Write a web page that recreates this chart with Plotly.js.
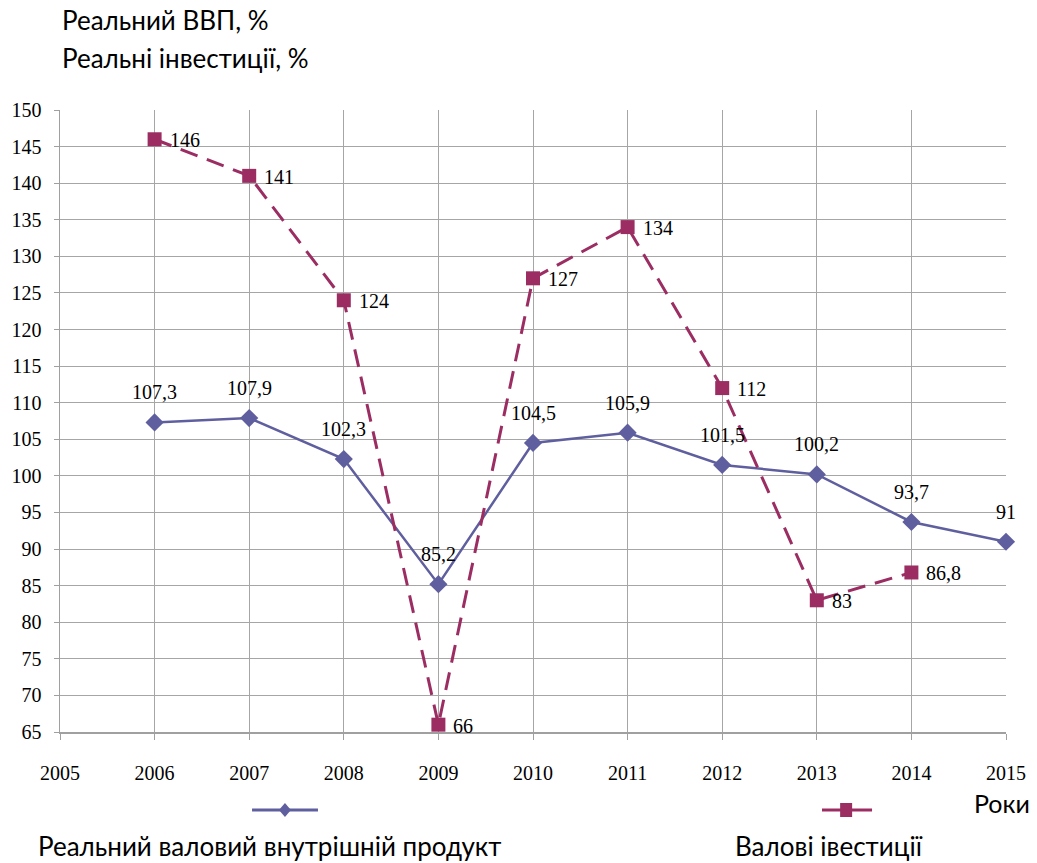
<!DOCTYPE html>
<html><head><meta charset="utf-8">
<script src="https://cdn.plot.ly/plotly-3.0.1.min.js"></script>
<style>html,body{margin:0;padding:0;background:#fff}#chart{width:1037px;height:863px}</style>
</head><body><div id="chart"></div>
<script>
const years = [2006, 2007, 2008, 2009, 2010, 2011, 2012, 2013, 2014, 2015];
const gdp = [107.3, 107.9, 102.3, 85.2, 104.5, 105.9, 101.5, 100.2, 93.7, 91];
const invYears = [2006, 2007, 2008, 2009, 2010, 2011, 2012, 2013, 2014];
const inv = [146, 141, 124, 66, 127, 134, 112, 83, 86.8];
const xTicks = [2005, 2006, 2007, 2008, 2009, 2010, 2011, 2012, 2013, 2014, 2015];
const titleLines = ['Реальний ВВП, %', 'Реальні інвестиції, %'];
const seriesNames = ['Реальний валовий внутрішній продукт', 'Валові івестиції'];
const xTitle = 'Роки';

const gdpColor = '#5f5f9f';
const invColor = '#9b2d62';
const serif = 'Liberation Serif, Times New Roman, serif';
const sans = 'Lato, Open Sans, sans-serif';
const fmt = v => String(v).replace('.', ',');

const traces = [
  {x: years, y: gdp, type: 'scatter', mode: 'lines+markers', name: seriesNames[0],
   line: {color: gdpColor, width: 2.5}, marker: {symbol: 'diamond', size: 14, color: gdpColor}, cliponaxis: false},
  {x: invYears, y: inv, type: 'scatter', mode: 'lines+markers', name: seriesNames[1],
   line: {color: invColor, width: 3, dash: '18px,10px'}, marker: {symbol: 'square', size: 14, color: invColor}, cliponaxis: false}
];

const annotations = [];
years.forEach((x, i) => annotations.push({x: x, y: gdp[i], xref: 'x', yref: 'y', text: fmt(gdp[i]), showarrow: false,
  yshift: 30, font: {family: serif, size: 20, color: '#000'}}));
invYears.forEach((x, i) => annotations.push({x: x, y: inv[i], xref: 'x', yref: 'y', text: fmt(inv[i]), showarrow: false,
  xanchor: 'left', xshift: 13, yshift: -1, font: {family: serif, size: 20, color: '#000'}}));
annotations.push({xref: 'paper', yref: 'paper', x: 0.0, y: 1.1447, xanchor: 'left', yanchor: 'middle', text: titleLines[0], showarrow: false, font: {family: sans, size: 26, color: '#000'}});
annotations.push({xref: 'paper', yref: 'paper', x: 0.0, y: 1.0836, xanchor: 'left', yanchor: 'middle', text: titleLines[1], showarrow: false, font: {family: sans, size: 26, color: '#000'}});
annotations.push({xref: 'paper', yref: 'paper', x: 1.0275, y: -0.114, xanchor: 'right', yanchor: 'middle', text: xTitle, showarrow: false, font: {family: sans, size: 25, color: '#000'}});
annotations.push({xref: 'paper', yref: 'paper', x: -0.0253, y: -0.1825, xanchor: 'left', yanchor: 'middle', text: seriesNames[0], showarrow: false, font: {family: sans, size: 26, color: '#000'}});
annotations.push({xref: 'paper', yref: 'paper', x: 0.7115, y: -0.1825, xanchor: 'left', yanchor: 'middle', text: seriesNames[1], showarrow: false, font: {family: sans, size: 26, color: '#000'}});

const shapes = [
  {type: 'line', xref: 'paper', yref: 'paper', x0: 0.203, x1: 0.2727, y0: -0.1254, y1: -0.1254, line: {color: gdpColor, width: 3}},
  {type: 'path', xref: 'paper', yref: 'paper', xsizemode: 'pixel', ysizemode: 'pixel', xanchor: 0.2378, yanchor: -0.1254,
   path: 'M0,-7 L6,0 L0,7 L-6,0 Z', fillcolor: gdpColor, line: {width: 0}},
  {type: 'line', xref: 'paper', yref: 'paper', x0: 0.8055, x1: 0.8584, y0: -0.1254, y1: -0.1254, line: {color: invColor, width: 3}},
  {type: 'rect', xref: 'paper', yref: 'paper', xsizemode: 'pixel', ysizemode: 'pixel', xanchor: 0.831, yanchor: -0.1254,
   x0: -6, x1: 6, y0: -7, y1: 7, fillcolor: invColor, line: {width: 0}}
];

const layout = {
  width: 1037, height: 863,
  margin: {l: 60, r: 31, t: 110, b: 131},
  paper_bgcolor: '#fff', plot_bgcolor: '#fff',
  showlegend: false,
  xaxis: {range: [2005, 2015], tickvals: xTicks, ticktext: xTicks.map(String), showgrid: true, gridcolor: '#a6a6a6', gridwidth: 1,
    showline: true, linecolor: '#a0a0a0', linewidth: 1.5, ticks: 'outside', ticklen: 6, tickcolor: '#a0a0a0',
    ticklabelstandoff: 16, tickfont: {family: serif, size: 20, color: '#000'}, zeroline: false, fixedrange: true},
  yaxis: {range: [65, 150], dtick: 5, tick0: 65, showgrid: true, gridcolor: '#a6a6a6', gridwidth: 1,
    showline: true, linecolor: '#a0a0a0', linewidth: 1.5, ticks: 'outside', ticklen: 5, tickcolor: '#a0a0a0',
    ticklabelstandoff: 8, tickfont: {family: serif, size: 20, color: '#000'}, zeroline: false, fixedrange: true},
  annotations: annotations,
  shapes: shapes
};

Plotly.newPlot('chart', traces, layout, {staticPlot: true});
</script>
</body></html>
